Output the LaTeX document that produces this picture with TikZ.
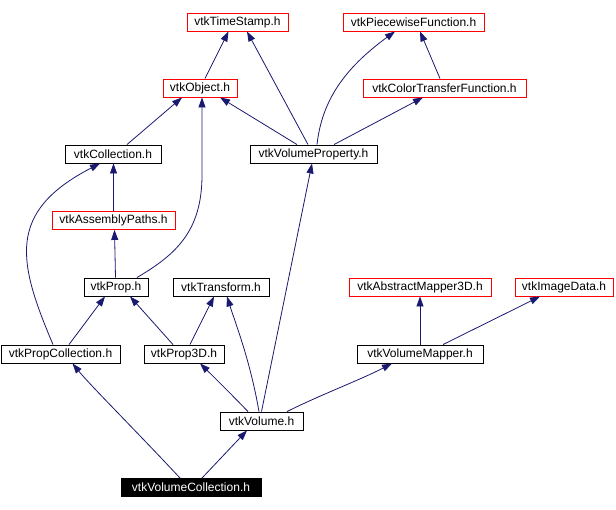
\documentclass[tikz,border=0pt]{standalone}
\usepackage{fontspec}
\setmainfont{Liberation Sans}
\usetikzlibrary{arrows.meta}

\definecolor{depblue}{RGB}{25,25,112}

\begin{document}
\begin{tikzpicture}[
    x=1pt, y=-1pt,
    hfile/.style={draw=black, line width=0.9pt, inner sep=0pt, minimum height=18pt, font=\fontsize{12}{14}\selectfont},
    hred/.style={hfile, draw=red},
    hmain/.style={hfile, fill=black, text=white},
    dep/.style={draw=depblue, line width=0.8pt, -{Triangle[length=10pt,width=7pt]}}
]
\useasboundingbox (0,0) rectangle (616,509);
% top row
\node[hred, minimum width=101pt] (ts) at (237.5,22) {vtkTimeStamp.h};
\node[hred, minimum width=141pt] (pwf) at (413.5,22) {vtkPiecewiseFunction.h};
\node[hred, minimum width=74pt] (obj) at (200,88) {vtkObject.h};
\node[hred, minimum width=163pt] (ctf) at (444.5,88) {vtkColorTransferFunction.h};
\node[hfile, minimum width=96pt] (coll) at (113,154) {vtkCollection.h};
\node[hfile, minimum width=127pt] (vprop) at (313.5,154) {vtkVolumeProperty.h};
\node[hred, minimum width=123pt] (apaths) at (113.5,220.5) {vtkAssemblyPaths.h};
% middle row
\node[hfile, minimum width=64pt] (prop) at (116,287) {vtkProp.h};
\node[hfile, minimum width=96pt] (xform) at (221,287) {vtkTransform.h};
\node[hred, minimum width=142pt] (amap) at (420,287) {vtkAbstractMapper3D.h};
\node[hred, minimum width=98pt] (imgdata) at (564,287) {vtkImageData.h};
\node[hfile, minimum width=119pt] (pcoll) at (60.5,354) {vtkPropCollection.h};
\node[hfile, minimum width=80pt] (prop3d) at (184,354) {vtkProp3D.h};
\node[hfile, minimum width=126pt] (vmapper) at (420,354) {vtkVolumeMapper.h};
\node[hfile, minimum width=83pt] (vol) at (261.5,421) {vtkVolume.h};
\node[hmain, minimum width=140pt] (vcoll) at (191,487.5) {vtkVolumeCollection.h};

% include edges
\draw[dep] ([xshift=5pt]obj.north) -- ([xshift=-9pt]ts.south);
\draw[dep] ([xshift=-5.5pt]vprop.north) -- ([xshift=9.5pt]ts.south);
\draw[dep] ([xshift=3.5pt]vprop.north) .. controls (322,100) and (345,68) .. ([xshift=-18.5pt]pwf.south);
\draw[dep] ([xshift=-4.5pt]ctf.north) -- ([xshift=6.5pt]pwf.south);
\draw[dep] ([xshift=20.5pt]vprop.north) -- ([xshift=-21.5pt]ctf.south);
\draw[dep] ([xshift=-16.5pt]vprop.north) -- ([xshift=20pt]obj.south);
\draw[dep] ([xshift=14pt]coll.north) -- ([xshift=-18pt]obj.south);
\draw[dep] ([xshift=21pt]prop.north) .. controls (175,255) and (202,232) .. (202,175) -- ([xshift=2pt]obj.south);
\draw[dep] (apaths.north) -- ([xshift=0.5pt]coll.south);
\draw[dep] ([xshift=-0.5pt]prop.north) -- ([xshift=1pt]apaths.south);
\draw[dep] ([xshift=-7.5pt]pcoll.north) .. controls (18,262) and (6,212) .. ([xshift=-13pt]coll.south);
\draw[dep] ([xshift=8.5pt]pcoll.north) -- ([xshift=-11pt]prop.south);
\draw[dep] ([xshift=-11pt]prop3d.north) -- ([xshift=14pt]prop.south);
\draw[dep] ([xshift=6pt]prop3d.north) -- ([xshift=-7pt]xform.south);
\draw[dep] ([xshift=-13.5pt]vol.north) .. controls (232,395) and (215,378) .. ([xshift=16pt]prop3d.south);
\draw[dep] ([xshift=-2.5pt]vol.north) .. controls (250,360) and (236,325) .. ([xshift=6pt]xform.south);
\draw[dep] (vol.north) -- ([xshift=-1.5pt]vprop.south);
\draw[dep] ([xshift=25.5pt]vol.north) .. controls (320,395) and (360,380) .. ([xshift=-28pt]vmapper.south);
\draw[dep] (vmapper.north) -- (amap.south);
\draw[dep] ([xshift=23pt]vmapper.north) -- ([xshift=-24pt]imgdata.south);
\draw[dep] ([xshift=-11pt]vcoll.north) .. controls (140,435) and (90,385) .. ([xshift=12pt]pcoll.south);
\draw[dep] ([xshift=11pt]vcoll.north) -- ([xshift=-14.5pt]vol.south);
\end{tikzpicture}
\end{document}
